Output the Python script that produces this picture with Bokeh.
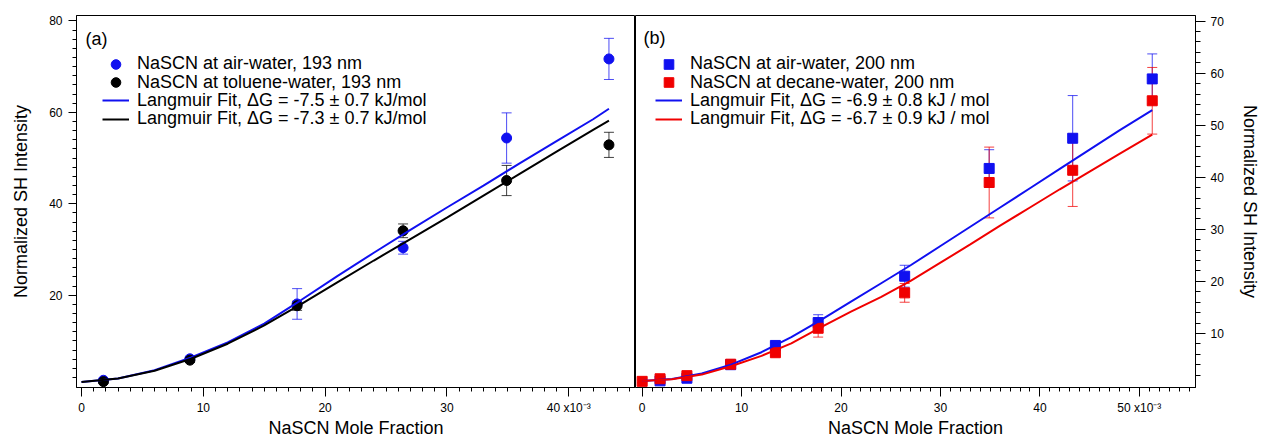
from bokeh.plotting import figure
from bokeh.models import (Range1d, FixedTicker, Whisker, TeeHead, ColumnDataSource,
                          Legend, LegendItem, Label)
from bokeh.layouts import row
from bokeh.embed import file_html
from bokeh.resources import INLINE

FONT = "Liberation Sans"

# ---------------- Panel (a) data ----------------
a_x = [1.8, 8.9, 17.7, 26.4, 34.9, 43.3]
a_air_y = [1.4, 6.1, 18.1, 30.4, 54.4, 71.7]
a_air_err = [0.4, 0.4, 3.35, 1.4, 5.5, 4.5]
a_tol_y = [1.1, 5.8, 17.7, 34.1, 45.1, 52.9]
a_tol_err = [0.4, 0.5, 1.0, 1.5, 3.3, 2.75]

a_fit_x = [0, 3, 6, 9, 12, 15, 18, 21, 24, 27, 30, 33, 36, 39, 42, 43.3]
a_fit_air = [1.0, 1.8, 3.6, 6.4, 9.7, 13.8, 18.9, 24.2, 29.3, 34.3, 39.2, 44.0, 48.9, 53.7, 58.5, 60.8]
a_fit_tol = [1.0, 1.8, 3.5, 6.1, 9.4, 13.4, 18.0, 22.8, 27.6, 32.3, 37.0, 41.8, 46.6, 51.4, 56.2, 58.2]

a_xticks = [0, 10, 20, 30, 40]
a_yticks = [20, 40, 60, 80]

# ---------------- Panel (b) data ----------------
b_air_x = [1.8, 4.5, 8.9, 13.4, 17.7, 26.4, 34.9, 43.3, 51.3]
b_air_y = [0.9, 1.4, 4.0, 7.7, 12.1, 21.0, 41.7, 47.5, 58.9]
b_air_err = [0.3, 0.3, 0.4, 0.5, 1.5, 2.1, 3.6, 8.2, 4.8]
b_dec_x = [0, 1.8, 4.5, 8.9, 13.4, 17.7, 26.4, 34.9, 43.3, 51.3]
b_dec_y = [0.8, 1.3, 1.9, 4.1, 6.3, 11.0, 17.8, 39.0, 41.35, 54.7]
b_dec_err = [0.3, 0.3, 0.3, 0.4, 0.5, 1.7, 1.8, 6.8, 6.95, 6.4]

b_fit_x = [0, 3, 6, 9, 12, 15, 18, 21, 24, 27, 30, 33, 36, 39, 42, 45, 48, 51.3]
b_fit_air = [0.85, 1.25, 2.3, 4.05, 6.4, 9.3, 12.6, 16.1, 19.6, 23.1, 26.8, 30.5, 34.2, 37.9, 41.6, 45.3, 49.0, 52.9]
b_fit_dec = [0.85, 1.2, 2.1, 3.75, 5.7, 8.1, 11.2, 14.2, 17.0, 20.1, 23.6, 27.1, 30.7, 34.2, 37.7, 41.1, 44.5, 48.2]

b_xticks = [0, 10, 20, 30, 40, 50]
b_yticks = [10, 20, 30, 40, 50, 60, 70]

labels_a = ["NaSCN at air-water, 193 nm", "NaSCN at toluene-water, 193 nm",
            "Langmuir Fit, \u0394G = -7.5 \u00b1 0.7 kJ/mol", "Langmuir Fit, \u0394G = -7.3 \u00b1 0.7 kJ/mol"]
labels_b = ["NaSCN at air-water, 200 nm", "NaSCN at decane-water, 200 nm",
            "Langmuir Fit, \u0394G = -6.9 \u00b1 0.8 kJ / mol", "Langmuir Fit, \u0394G = -6.7 \u00b1 0.9 kJ / mol"]

BLUE = "#1010F0"
RED = "#F00000"
BLACK = "#000000"

FRAME_BOTTOM = 393   # screen y of frame bottom
ROW_H = 24
ROW_CENTERS = [63.3, 81.6, 99.9, 118.2]
ROW_SHIFT = 6.5


def style(p):
    p.xgrid.visible = False
    p.ygrid.visible = False
    p.outline_line_color = "black"
    p.outline_line_alpha = 1.0
    p.outline_line_width = 1
    p.background_fill_color = "white"
    p.border_fill_color = "white"
    for ax in p.xaxis + p.yaxis:
        ax.axis_line_color = "black"
        ax.major_tick_line_color = "black"
        ax.minor_tick_line_color = "black"
        ax.major_tick_in = 0
        ax.minor_tick_in = 0
        ax.major_label_text_font = FONT
        ax.major_label_text_font_size = "12px"
        ax.major_label_text_color = "black"
        ax.axis_label_text_font = FONT
        ax.axis_label_text_font_size = "18px"
        ax.axis_label_text_font_style = "normal"
        ax.axis_label_text_color = "black"


def errbars(p, xs, ys, errs, color):
    src = ColumnDataSource(dict(x=xs, upper=[y + e for y, e in zip(ys, errs)],
                                lower=[y - e for y, e in zip(ys, errs)]))
    w = Whisker(base="x", upper="upper", lower="lower", source=src,
                line_color=color, line_alpha=0.75, line_width=1,
                upper_head=TeeHead(size=10, line_color=color, line_alpha=0.75, line_width=1),
                lower_head=TeeHead(size=10, line_color=color, line_alpha=0.75, line_width=1))
    p.add_layout(w)


def add_legend_rows(p, labels, renderers, x):
    for lab, r, c in zip(labels, renderers, ROW_CENTERS):
        y_bottom = FRAME_BOTTOM - c - ROW_H / 2 - ROW_SHIFT
        leg = Legend(items=[LegendItem(label=lab, renderers=[r])], location=(x, y_bottom),
                     label_text_font=FONT, label_text_font_size="18px", label_text_color="black",
                     glyph_width=27, glyph_height=ROW_H, label_height=ROW_H, spacing=0,
                     padding=0, margin=0, label_standoff=8,
                     border_line_color=None, background_fill_alpha=0)
        p.add_layout(leg)


# ---------------- Panel (a) ----------------
p1 = figure(width=635, height=440, output_backend="svg", toolbar_location=None,
            x_range=Range1d(-0.41, 45.48), y_range=Range1d(-0.18, 81.2),
            min_border_left=76, min_border_right=0, min_border_top=15, min_border_bottom=47,
            title=None)
style(p1)
p1.xaxis.ticker = FixedTicker(ticks=a_xticks, minor_ticks=list(range(0, 46)))
p1.xaxis.major_label_overrides = {40: "40 x10\u207b\u00b3"}
p1.xaxis.major_tick_out = 9
p1.xaxis.minor_tick_out = 4
p1.xaxis.major_label_standoff = 4
p1.xaxis.axis_label = "NaSCN Mole Fraction"
p1.xaxis.axis_label_standoff = 0
p1.yaxis.ticker = FixedTicker(ticks=a_yticks, minor_ticks=list(range(2, 82, 2)))
p1.yaxis.major_tick_out = 8
p1.yaxis.minor_tick_out = 4
p1.yaxis.major_label_standoff = 6
p1.yaxis.axis_label = "Normalized SH Intensity"
p1.yaxis.axis_label_standoff = 15

errbars(p1, a_x, a_air_y, a_air_err, BLUE)
errbars(p1, a_x, a_tol_y, a_tol_err, BLACK)
ra1 = p1.scatter(a_x, a_air_y, marker="circle", size=10, color=BLUE)
ra2 = p1.scatter(a_x, a_tol_y, marker="circle", size=10, color=BLACK)
la1 = p1.line(a_fit_x, a_fit_air, line_color=BLUE, line_width=2)
la2 = p1.line(a_fit_x, a_fit_tol, line_color=BLACK, line_width=2)

add_legend_rows(p1, labels_a, [ra1, ra2, la1, la2], 26)
p1.add_layout(Label(x=0.33, y=76.0, text="(a)", text_font=FONT, text_font_size="18px",
                    text_baseline="middle", text_color="black"))

# ---------------- Panel (b) ----------------
p2 = figure(width=627, height=440, output_backend="svg", toolbar_location=None,
            x_range=Range1d(-0.67, 55.65), y_range=Range1d(-0.38, 71.08),
            y_axis_location="right",
            min_border_left=0, min_border_right=63, min_border_top=15, min_border_bottom=47,
            title=None)
style(p2)
p2.xaxis.ticker = FixedTicker(ticks=b_xticks, minor_ticks=list(range(0, 56)))
p2.xaxis.major_label_overrides = {50: "50 x10\u207b\u00b3"}
p2.xaxis.major_tick_out = 9
p2.xaxis.minor_tick_out = 4
p2.xaxis.major_label_standoff = 4
p2.xaxis.axis_label = "NaSCN Mole Fraction"
p2.xaxis.axis_label_standoff = 0
p2.yaxis.ticker = FixedTicker(ticks=b_yticks, minor_ticks=list(range(2, 72, 2)))
p2.yaxis.major_tick_out = 10
p2.yaxis.minor_tick_out = 5
p2.yaxis.major_label_standoff = 5
p2.yaxis.axis_label = "Normalized SH Intensity"
p2.yaxis.axis_label_standoff = 13

errbars(p2, b_air_x, b_air_y, b_air_err, BLUE)
errbars(p2, b_dec_x, b_dec_y, b_dec_err, RED)
rb1 = p2.scatter(b_air_x, b_air_y, marker="square", size=10, color=BLUE)
rb2 = p2.scatter(b_dec_x, b_dec_y, marker="square", size=10, color=RED)
lb1 = p2.line(b_fit_x, b_fit_air, line_color=BLUE, line_width=2)
lb2 = p2.line(b_fit_x, b_fit_dec, line_color=RED, line_width=2)

add_legend_rows(p2, labels_b, [rb1, rb2, lb1, lb2], 20)
p2.add_layout(Label(x=0.13, y=66.7, text="(b)", text_font=FONT, text_font_size="18px",
                    text_baseline="middle", text_color="black"))

layout = row(p1, p2)
open("out.html", "w").write(file_html(layout, INLINE))
